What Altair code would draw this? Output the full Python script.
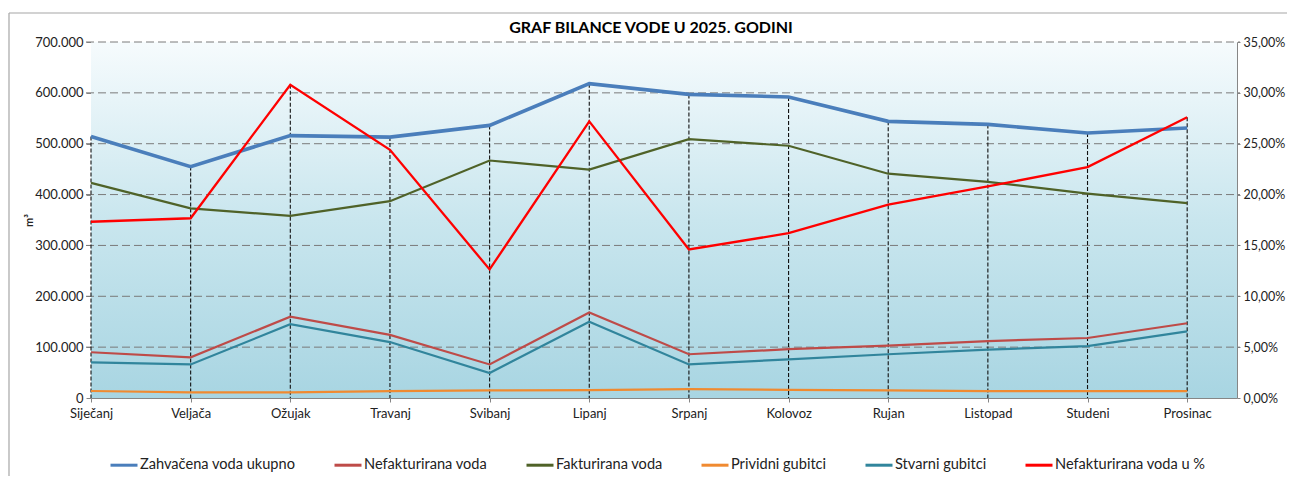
import altair as alt
import pandas as pd

months = ["Siječanj", "Veljača", "Ožujak", "Travanj", "Svibanj", "Lipanj",
          "Srpanj", "Kolovoz", "Rujan", "Listopad", "Studeni", "Prosinac"]
zahvacena = [514000, 455000, 516000, 513000, 536000, 618000, 597000, 592000, 544000, 538000, 521000, 531000]
nefakturirana = [90000, 80000, 160000, 124000, 66000, 168000, 86000, 96000, 103000, 112000, 118000, 147000]
fakturirana = [423000, 373000, 358000, 387000, 467000, 449000, 509000, 496000, 441000, 425000, 402000, 383000]
prividni = [13800, 11000, 11000, 13500, 15000, 15500, 17500, 16000, 15000, 13500, 13500, 13500]
stvarni = [70000, 66000, 145000, 110000, 49000, 150000, 66000, 76000, 86000, 95000, 102000, 131000]
postotak = [0.1733, 0.1767, 0.308, 0.244, 0.1264, 0.272, 0.146, 0.162, 0.190, 0.208, 0.227, 0.276]

series_names = ["Zahvačena voda ukupno", "Nefakturirana voda", "Fakturirana voda",
                "Prividni gubitci", "Stvarni gubitci", "Nefakturirana voda u %"]
series_colors = ["#4A7EBB", "#BE4B48", "#4F6228", "#F08A30", "#31859C", "#FF0000"]
left_ticks = [0, 100000, 200000, 300000, 400000, 500000, 600000, 700000]
right_ticks = [0, 0.05, 0.10, 0.15, 0.20, 0.25, 0.30, 0.35]
grid_values = left_ticks[1:]

W, H = 1146, 356
FONT = "Lato"

rows = []
for i, m in enumerate(months):
    for name, vals in zip(series_names[:5], [zahvacena, nefakturirana, fakturirana, prividni, stvarni]):
        rows.append({"idx": i, "month": m, "series": name, "value": vals[i]})
    rows.append({"idx": i, "month": m, "series": series_names[5], "value": postotak[i]})
df = pd.DataFrame(rows)

drop_df = pd.DataFrame({"idx": list(range(len(months))), "zahv": zahvacena, "pct": postotak})

month_js = "[" + ",".join("'" + m + "'" for m in months) + "]"

x_enc = alt.X("idx:Q",
              scale=alt.Scale(domain=[0, 11.5], nice=False, zero=True),
              axis=alt.Axis(values=list(range(12)), labelExpr=month_js + "[datum.value]",
                            title=None, grid=False, domainColor="#868686", tickColor="#868686",
                            tickSize=4, labelFontSize=13, labelColor="#222222", labelFont=FONT,
                            labelPadding=5, labelFlush=False))

left_scale = alt.Scale(domain=[0, 700000], nice=False)
left_axis = alt.Axis(values=left_ticks, format=",d", title="m³", grid=False,
                     domainColor="#868686", tickColor="#868686", tickSize=5,
                     labelFontSize=13, labelColor="#222222", labelFont=FONT, labelPadding=3,
                     titleFont=FONT, titleFontSize=11, titleFontWeight="bold", titleColor="#222222",
                     titleX=-62, titleY=178, titleAngle=-90, titleAlign="center", titleBaseline="middle")

color_enc = alt.Color("series:N",
                      scale=alt.Scale(domain=series_names, range=series_colors),
                      legend=alt.Legend(orient="none", legendX=18, legendY=408, direction="horizontal",
                                        title=None, symbolType="stroke", symbolSize=729,
                                        symbolStrokeWidth=3, labelFontSize=14.6, labelFont=FONT,
                                        labelColor="#222222", columnPadding=32, labelOffset=1,
                                        columns=6))

base = alt.Chart(df)

bg = alt.Chart(pd.DataFrame({"a": [0]})).mark_rect(
    fill=alt.Gradient(gradient="linear", x1=0, x2=0, y1=0, y2=1,
                      stops=[alt.GradientStop(color="#f6fbfd", offset=0),
                             alt.GradientStop(color="#c9e6ee", offset=0.5),
                             alt.GradientStop(color="#a8d5e2", offset=1)])
).encode(x=alt.value(0), x2=alt.value(W), y=alt.value(0), y2=alt.value(H))

frame_left = alt.Chart(pd.DataFrame({"a": [0]})).mark_rule(color="#a6a6a6", strokeWidth=1.2).encode(
    x=alt.value(-82), y=alt.value(-29), y2=alt.value(520))
frame_top = alt.Chart(pd.DataFrame({"a": [0]})).mark_rule(color="#a6a6a6", strokeWidth=1.2).encode(
    x=alt.value(-82), x2=alt.value(1300), y=alt.value(-29))

grid = alt.Chart(pd.DataFrame({"g": grid_values})).mark_rule(
    color="#7a7a7a", strokeDash=[8, 4], strokeWidth=1
).encode(y=alt.Y("g:Q", scale=left_scale, axis=left_axis), x=alt.value(-5), x2=alt.value(W + 3))

drops = alt.Chart(drop_df).transform_calculate(
    top="max(datum.zahv, datum.pct * 2000000)", zero="0"
).mark_rule(color="#111111", strokeDash=[4, 2], strokeWidth=1.1).encode(
    x=x_enc,
    y=alt.Y("top:Q", scale=left_scale, axis=left_axis),
    y2=alt.Y2("zero:Q"))

blue = base.transform_filter(alt.datum.series == series_names[0]).mark_line(strokeWidth=3.6).encode(
    x=x_enc, y=alt.Y("value:Q", scale=left_scale, axis=left_axis), color=color_enc)

others = base.transform_filter(
    alt.FieldOneOfPredicate(field="series", oneOf=series_names[1:5])
).mark_line(strokeWidth=2.2).encode(
    x=x_enc, y=alt.Y("value:Q", scale=left_scale, axis=left_axis), color=color_enc,
    order=alt.Order("idx:Q"))

left = alt.layer(bg, frame_left, frame_top, grid, drops, blue, others)

red = base.transform_filter(alt.datum.series == series_names[5]).mark_line(strokeWidth=2.3).encode(
    x=x_enc,
    y=alt.Y("value:Q", scale=alt.Scale(domain=[0, 0.35], nice=False),
            axis=alt.Axis(orient="right", values=right_ticks, format=".2%", title=None, grid=False,
                          domainColor="#868686", tickColor="#868686", tickSize=3,
                          labelFontSize=12.5, labelColor="#222222", labelFont=FONT, labelPadding=3)),
    color=color_enc)

chart = alt.layer(left, red).resolve_scale(y="independent").properties(
    width=W, height=H,
    title=alt.TitleParams("GRAF BILANCE VODE U 2025. GODINI", font=FONT, fontSize=16,
                          fontWeight="bold", color="#000000", anchor="middle", frame="group",
                          dx=-13, offset=-24),
    padding={"left": 83, "top": 34, "right": 50, "bottom": 78},
    autosize=alt.AutoSizeParams(type="none"),
).configure(
    locale={"number": {"decimal": ",", "thousands": ".", "grouping": [3], "currency": ["", " €"]}}
).configure_view(stroke=None)

chart.save("out.html", embed_options={"renderer": "svg", "actions": False})
